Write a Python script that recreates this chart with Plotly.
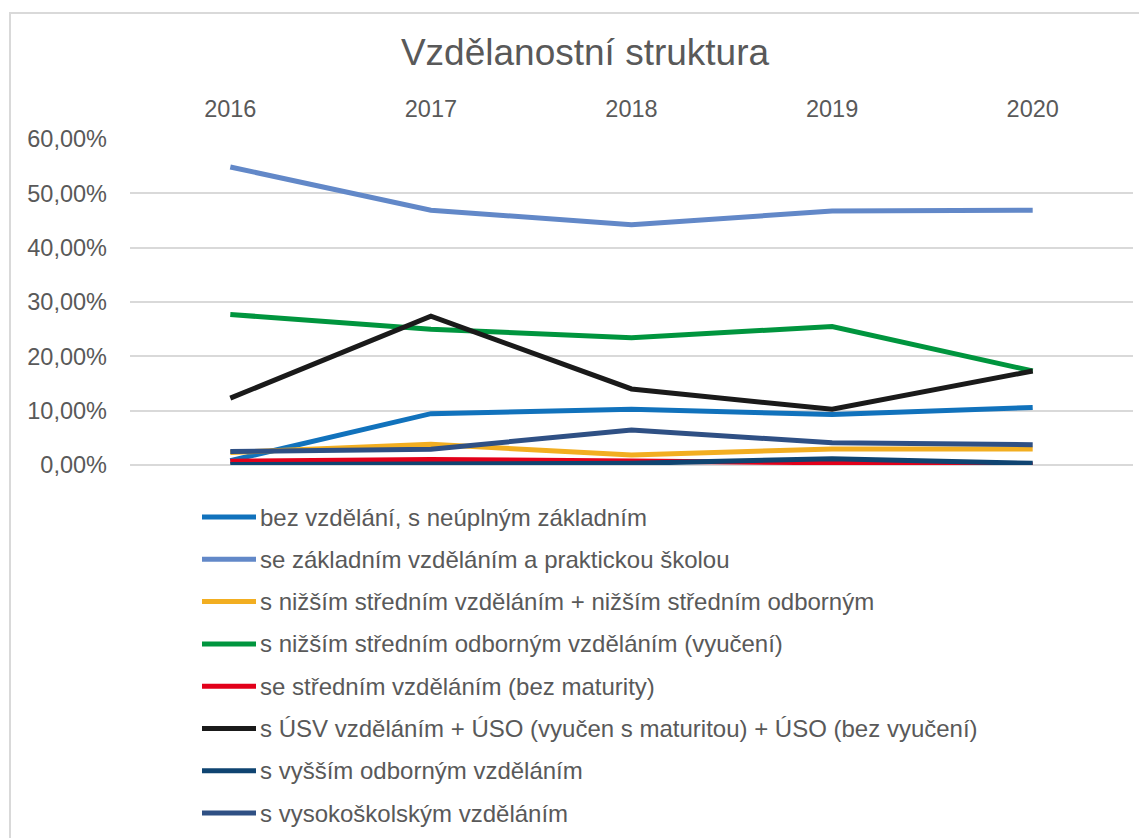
import plotly.graph_objects as go

# ---- data ----
years = ["2016", "2017", "2018", "2019", "2020"]

series_names = [
    "bez vzdělání, s neúplným základním",
    "se základním vzděláním a praktickou školou",
    "s nižším středním vzděláním + nižším středním odborným",
    "s nižším středním odborným vzděláním (vyučení)",
    "se středním vzděláním (bez maturity)",
    "s ÚSV vzděláním + ÚSO (vyučen s maturitou) + ÚSO (bez vyučení)",
    "s vyšším odborným vzděláním",
    "s vysokoškolským vzděláním",
]

bez_vzdelani = [0.008, 0.0945, 0.1025, 0.093, 0.106]
zakladni = [0.5485, 0.469, 0.442, 0.4675, 0.469]
nizsi_stredni = [0.023, 0.038, 0.0185, 0.0295, 0.0295]
vyuceni = [0.277, 0.250, 0.234, 0.255, 0.173]
stredni_bez_mat = [0.007, 0.010, 0.0075, 0.004, 0.0005]
usv_uso = [0.123, 0.274, 0.140, 0.1025, 0.173]
vyssi_odborne = [0.001, 0.001, 0.003, 0.0115, 0.003]
vysokoskolske = [0.025, 0.029, 0.0645, 0.041, 0.0375]

series_values = [bez_vzdelani, zakladni, nizsi_stredni, vyuceni,
                 stredni_bez_mat, usv_uso, vyssi_odborne, vysokoskolske]

y_tick_vals = [0.0, 0.1, 0.2, 0.3, 0.4, 0.5, 0.6]
y_tick_text = ["0,00%", "10,00%", "20,00%", "30,00%", "40,00%", "50,00%", "60,00%"]

title_text = "Vzdělanostní struktura"

# ---- style ----
colors = ["#1172BC", "#6288C8", "#F2AE21", "#00953E",
          "#E2001A", "#1A1A1A", "#0F4471", "#2F5084"]
FONT = "Arial, 'Liberation Sans', sans-serif"
TXT = "#595959"
GRID = "#D9D9D9"

W, H = 1147, 838
OFF = 8  # page body margin offset
# target screen positions of the plot area
SX0, SX1, SY0, SY1 = 130, 1133, 139, 465
L = SX0 - OFF
R = W - (SX1 - OFF)
T = SY0 - OFF
B = H - (SY1 - OFF)
pw, ph = W - L - R, H - T - B


def px_x(px):
    return (px - OFF - L) / pw


def px_y(py):
    return (H - B - (py - OFF)) / ph


fig = go.Figure()
for name, vals, col in zip(series_names, series_values, colors):
    fig.add_trace(go.Scatter(
        x=years, y=vals, name=name, mode="lines",
        line=dict(color=col, width=5),
        showlegend=False,
    ))

# manual legend (below the plot, like the original)
shapes = []
annotations = []
leg_top = 517
leg_step = 42.3
for i, (name, col) in enumerate(zip(series_names, colors)):
    yy = leg_top + i * leg_step
    shapes.append(dict(type="line", xref="paper", yref="paper",
                       x0=px_x(202), x1=px_x(256), y0=px_y(yy), y1=px_y(yy),
                       line=dict(color=col, width=5)))
    annotations.append(dict(xref="paper", yref="paper", x=px_x(258), y=px_y(yy),
                            text=name, showarrow=False, xanchor="left",
                            yanchor="middle",
                            font=dict(family=FONT, size=24, color=TXT)))

# chart border
shapes.append(dict(type="rect", xref="paper", yref="paper",
                   x0=px_x(10), x1=px_x(1160), y0=px_y(13), y1=px_y(860),
                   line=dict(color=GRID, width=2), fillcolor="rgba(0,0,0,0)",
                   layer="below"))

fig.update_layout(
    width=W, height=H,
    margin=dict(l=L, r=R, t=T, b=B),
    paper_bgcolor="white", plot_bgcolor="white",
    title=dict(text=title_text, x=(585 - OFF) / W, xanchor="center",
               y=1 - (52 - OFF) / H, yanchor="middle", yref="container",
               font=dict(family=FONT, size=37, color=TXT)),
    xaxis=dict(type="category", side="top", range=[-0.5, 4.5],
               showgrid=False, zeroline=False, showline=False, ticks="",
               ticklabelstandoff=16,
               tickfont=dict(family=FONT, size=23.5, color=TXT)),
    yaxis=dict(range=[0, 0.6], tickvals=y_tick_vals, ticktext=y_tick_text,
               showgrid=True, gridcolor=GRID, gridwidth=1.5,
               zeroline=True, zerolinecolor=GRID, zerolinewidth=1.5,
               showline=False, ticks="", ticklabelstandoff=22,
               tickfont=dict(family=FONT, size=23.5, color=TXT)),
    shapes=shapes,
    annotations=annotations,
    showlegend=False,
)

fig.write_html("out.html")
